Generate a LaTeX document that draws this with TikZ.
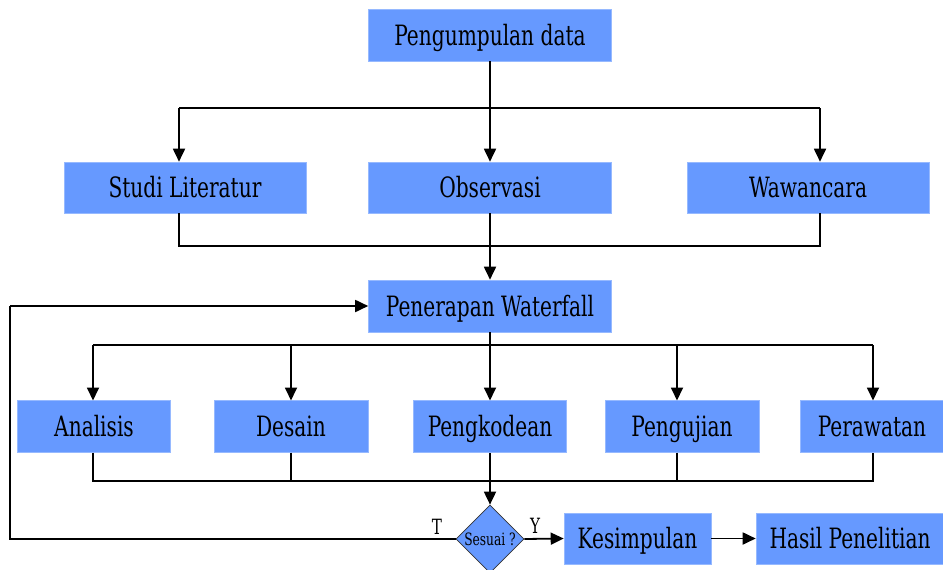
\documentclass[tikz,border=0pt]{standalone}
\usepackage{fontspec}
\setmainfont[FakeStretch=0.8]{DejaVu Serif Condensed}
\usetikzlibrary{arrows.meta,shapes.geometric}
\definecolor{boxblue}{RGB}{102,153,255}
\definecolor{boxedge}{RGB}{150,185,255}
\begin{document}
\begin{tikzpicture}[x=1pt,y=-1pt,
  box/.style={fill=boxblue,draw=boxedge,line width=0.6pt,inner sep=0pt,font=\fontsize{28}{30}\selectfont,text height=20.4pt,text depth=0pt},
  link/.style={line width=1.8pt,draw=black},
  arr/.style={link,-{Triangle[length=13pt,width=12pt]}},
  lab/.style={font=\fontsize{21}{23}\selectfont}]
\useasboundingbox (0,0) rectangle (943,570);
% top
\node[box,minimum width=243pt,minimum height=52pt] (pd) at (490,35) {Pengumpulan data};
\node[box,minimum width=242pt,minimum height=51pt] (sl) at (185,187.5) {Studi Literatur};
\node[box,minimum width=243pt,minimum height=51pt] (ob) at (490,187.5) {Observasi};
\node[box,minimum width=242pt,minimum height=51pt] (ww) at (808,187.5) {Wawancara};
\node[box,minimum width=243pt,minimum height=52pt] (pw) at (490,306) {Penerapan Waterfall};
% row
\node[box,minimum width=153pt,minimum height=52pt] (an) at (94,426.5) {Analisis};
\node[box,minimum width=154pt,minimum height=52pt] (de) at (291,426.5) {Desain};
\node[box,minimum width=153pt,minimum height=52pt] (pk) at (490,426.5) {Pengkodean};
\node[box,minimum width=154pt,minimum height=52pt] (pu) at (682,426.5) {Pengujian};
\node[box,minimum width=144pt,minimum height=52pt] (pr) at (872,426.5) {Perawatan};
% bottom
\node[diamond,fill=boxblue,draw=black!80,line width=0.7pt,inner sep=0pt,minimum width=68pt,minimum height=68pt,font=\fontsize{17}{19}\selectfont,text height=12.4pt,text depth=0pt] (ss) at (490,539) {\makebox[0pt]{Sesuai ?}};
\node[box,minimum width=147pt,minimum height=51pt] (ks) at (637.5,538.5) {Kesimpulan};
\node[box,minimum width=188pt,minimum height=51pt] (hp) at (850,538.5) {Hasil Penelitian};
% coordinates
\coordinate (j1) at (490,108);
\coordinate (l1) at (179,108);
\coordinate (r1) at (820,108);
\coordinate (j2) at (490,246);
\coordinate (j3) at (490,345);
\coordinate (j4) at (490,481);
\coordinate (fb1) at (10,539);
\coordinate (fb2) at (10,306);
% connectors top
\draw[link] (pd.south) -- (j1);
\draw[arr] (j1) -- (pd.south |- sl.north);
\draw[arr] (l1) -- (l1 |- sl.north);
\draw[arr] (r1) -- (r1 |- ww.north);
\draw[link] (l1) -- (r1);
\draw[link] (l1 |- sl.south) -- (l1 |- j2) -- (r1 |- j2) -- (r1 |- ww.south);
\draw[link] (ob.south) -- (j2);
\draw[arr] (j2) -- (pw.north);
% waterfall fan out
\draw[link] (pw.south) -- (j3);
\draw[link] (93,345) -- (873,345);
\draw[arr] (93,345) -- (93,400.5);
\draw[arr] (291,345) -- (291,400.5);
\draw[arr] (j3) -- (490,400.5);
\draw[arr] (677,345) -- (677,400.5);
\draw[arr] (873,345) -- (873,400.5);
% fan in
\draw[link] (93,452.5) -- (93,481) -- (873,481) -- (873,452.5);
\draw[link] (291,452.5) -- (291,481);
\draw[link] (pk.south) -- (j4);
\draw[link] (677,452.5) -- (677,481);
\draw[arr] (j4) -- (ss.north);
% decision
\draw[link] (ss.west) -- (fb1) -- (fb2);
\draw[arr] (fb2) -- (pw.west);
\draw[arr] (ss.east) -- (ks.west);
\draw[arr] (ks.east) -- (hp.west);
\node[lab] (tl) at (437,527) {T};
\node[lab] (yl) at (535,526) {Y};
\end{tikzpicture}
\end{document}
